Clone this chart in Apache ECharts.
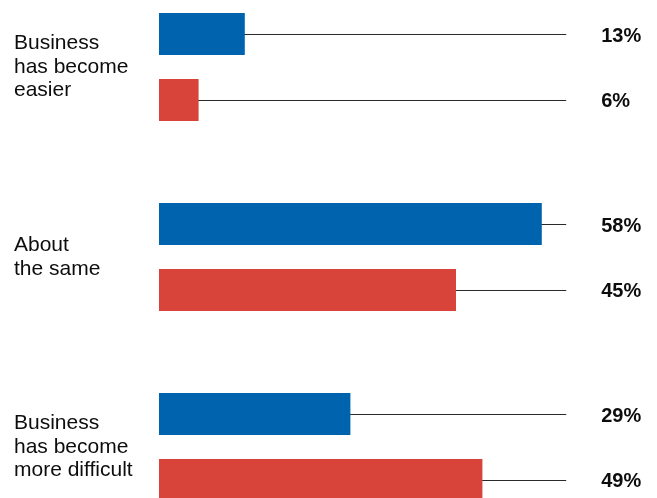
<!DOCTYPE html>
<html>
<head>
<meta charset="utf-8">
<script src="https://cdn.jsdelivr.net/npm/echarts@6/dist/echarts.min.js"></script>
<style>
  html, body { margin: 0; padding: 0; background: #fff; }
  #chart { width: 657px; height: 498px; }
</style>
</head>
<body>
<div id="chart"></div>
<script>
// Survey answers, share of respondents (%)
const categories = ['Business\nhas become\neasier', 'About\nthe same', 'Business\nhas become\nmore difficult'];
const blueValues = [13, 58, 29];
const redValues = [6, 45, 49];

// Leader lines run from each bar's end out to this value on the x scale
const LEADER_END = 61.7;

const BLUE = '#0063ae';
const RED = '#d8433a';
const FONT = '"Liberation Sans", Arial, Helvetica, sans-serif';

const barCommon = {
  type: 'bar',
  barWidth: 42,
  barGap: '57%',
  z: 3,
  silent: true
};

function leaderSeries(values) {
  return {
    type: 'pictorialBar',
    symbol: 'rect',
    symbolSize: ['100%', 1],
    symbolPosition: 'start',
    symbolOffset: [0, 0.5],
    barWidth: 42,
    barGap: '57%',
    z: 1,
    silent: true,
    itemStyle: { color: '#2a2a2a' },
    data: values.map(function () { return LEADER_END; }),
    label: {
      show: true,
      position: 'right',
      distance: 35,
      offset: [0, 2],
      fontFamily: FONT,
      fontSize: 20,
      fontWeight: 'bold',
      color: '#0d0d0d',
      formatter: function (p) { return values[p.dataIndex] + '%'; }
    }
  };
}

const chart = echarts.init(document.getElementById('chart'), null, { renderer: 'canvas' });
chart.setOption({
  animation: false,
  backgroundColor: '#ffffff',
  grid: {
    left: 159,
    right: 3,
    top: -28,
    bottom: -44,
    outerBoundsMode: 'none',
    containLabel: false
  },
  xAxis: {
    type: 'value',
    min: 0,
    max: 75,
    show: false
  },
  yAxis: {
    type: 'category',
    inverse: true,
    data: categories,
    axisLine: { show: false },
    axisTick: { show: false },
    splitLine: { show: false },
    axisLabel: {
      align: 'left',
      margin: 145,
      fontFamily: FONT,
      fontSize: 21,
      lineHeight: 23.5,
      color: '#0d0d0d'
    }
  },
  series: [
    Object.assign({}, barCommon, { name: 'blue', data: blueValues, itemStyle: { color: BLUE } }),
    Object.assign({}, barCommon, { name: 'red', data: redValues, itemStyle: { color: RED } }),
    leaderSeries(blueValues),
    leaderSeries(redValues)
  ]
});
</script>
</body>
</html>
